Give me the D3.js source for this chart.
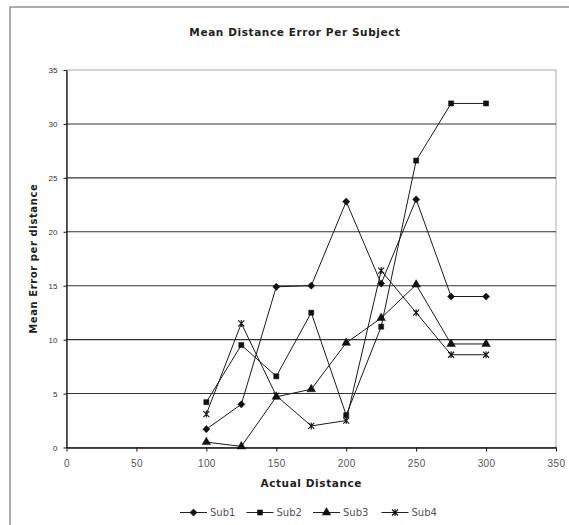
<!DOCTYPE html>
<html>
<head>
<meta charset="utf-8">
<script src="https://cdn.jsdelivr.net/npm/d3@7"></script>
<style>
  body { margin: 0; background: #fff; }
  svg { display: block; font-family: "DejaVu Sans", sans-serif; }
</style>
</head>
<body>
<div id="chart"></div>
<script>
// values
var distances = [100, 125, 150, 175, 200, 225, 250, 275, 300];
var sub1 = [1.7, 4.0, 14.9, 15.0, 22.8, 15.2, 23.0, 14.0, 14.0];
var sub2 = [4.2, 9.5, 6.6, 12.5, 3.0, 11.2, 26.6, 31.9, 31.9];
var sub3 = [0.5, 0.1, 4.7, 5.4, 9.7, 12.0, 15.1, 9.6, 9.6];
var sub4 = [3.1, 11.5, 4.8, 2.0, 2.5, 16.4, 12.5, 8.6, 8.6];
var seriesNames = ["Sub1", "Sub2", "Sub3", "Sub4"];
var xTicks = [0, 50, 100, 150, 200, 250, 300, 350];
var yTicks = [0, 5, 10, 15, 20, 25, 30, 35];

var width = 569, height = 525;
var plotL = 66.5, plotR = 556, plotT = 70, plotB = 447.5;

var svg = d3.select("#chart").append("svg")
    .attr("width", width)
    .attr("height", height);

// chart area border (runs off the picture on right / bottom)
svg.append("rect")
    .attr("x", 10).attr("y", 7)
    .attr("width", 600).attr("height", 600)
    .attr("fill", "none")
    .attr("stroke", "#777")
    .attr("stroke-width", 1.2);

var x = d3.scaleLinear().domain([0, 350]).range([plotL, plotR]);
var y = d3.scaleLinear().domain([0, 35]).range([plotB, plotT]);

// plot area outline
svg.append("rect")
    .attr("x", plotL).attr("y", plotT)
    .attr("width", plotR - plotL).attr("height", plotB - plotT)
    .attr("fill", "none")
    .attr("stroke", "#aaa")
    .attr("stroke-width", 1);

// gridlines
svg.append("g")
    .selectAll("line")
    .data(yTicks.filter(function(d){ return d > 0 && d < 35; }))
    .enter()
    .append("line")
    .attr("x1", plotL).attr("x2", plotR)
    .attr("y1", function(d){ return y(d); })
    .attr("y2", function(d){ return y(d); })
    .attr("stroke", "#333")
    .attr("stroke-width", 1.1);

// axes
var yAxis = svg.append("g")
    .attr("transform", "translate(" + plotL + ",0)")
    .call(d3.axisLeft(y).tickValues(yTicks).tickSize(3).tickSizeOuter(0).tickPadding(6));
yAxis.select(".domain").attr("stroke", "#111").attr("stroke-width", 1.3);
yAxis.selectAll(".tick line").attr("stroke", "#111");
yAxis.selectAll("text").style("font-size", "8px").attr("fill", "#333");

var xAxis = svg.append("g")
    .attr("transform", "translate(0," + plotB + ")")
    .call(d3.axisBottom(x).tickValues(xTicks).tickSize(4).tickSizeOuter(0).tickPadding(8));
xAxis.select(".domain").attr("stroke", "#111").attr("stroke-width", 1.6);
xAxis.selectAll(".tick line").attr("stroke", "#111");
xAxis.selectAll("text").style("font-size", "10px").style("letter-spacing", "0.4px").attr("fill", "#555");

// titles
svg.append("text")
    .text("Mean Distance Error Per Subject")
    .attr("x", 295).attr("y", 36)
    .attr("text-anchor", "middle")
    .style("font-size", "10.5px")
    .style("font-weight", "bold")
    .style("letter-spacing", "0.6px")
    .attr("fill", "#222");

svg.append("text")
    .text("Actual Distance")
    .attr("x", (plotL + plotR) / 2).attr("y", 487)
    .attr("text-anchor", "middle")
    .style("font-size", "10.5px")
    .style("font-weight", "bold")
    .style("letter-spacing", "0.6px")
    .attr("fill", "#222");

svg.append("text")
    .text("Mean Error per distance")
    .attr("transform", "translate(37," + ((plotT + plotB) / 2) + ") rotate(-90)")
    .attr("text-anchor", "middle")
    .style("font-size", "10px")
    .style("font-weight", "bold")
    .style("letter-spacing", "0.6px")
    .attr("fill", "#222");

// markers
var markers = [
    "M0,-3.6L3.6,0L0,3.6L-3.6,0Z",
    d3.symbol().type(d3.symbolSquare).size(26)(),
    d3.symbol().type(d3.symbolTriangle).size(32)(),
    "M-3,-3L3,3M-3,3L3,-3M0,-3.5L0,3.5"
];

var allSeries = [sub1, sub2, sub3, sub4];
var line = d3.line()
    .x(function(d, i){ return x(distances[i]); })
    .y(function(d){ return y(d); });

allSeries.forEach(function(vals, s) {
    var g = svg.append("g");
    g.append("path")
        .attr("d", line(vals))
        .attr("fill", "none")
        .attr("stroke", "#1a1a1a")
        .attr("stroke-width", 1);
    g.selectAll("path.m")
        .data(vals)
        .enter()
        .append("path")
        .attr("class", "m")
        .attr("d", markers[s])
        .attr("transform", function(d, i){ return "translate(" + x(distances[i]) + "," + y(d) + ")"; })
        .attr("fill", s == 3 ? "none" : "#111")
        .attr("stroke", "#111")
        .attr("stroke-width", s == 3 ? 1.1 : 0.5);
});

// legend
var legendX = [180, 246.5, 313, 381.5];
var legend = svg.append("g").attr("class", "legend");
seriesNames.forEach(function(name, s) {
    var lx = legendX[s], ly = 512.5;
    legend.append("line")
        .attr("x1", lx).attr("x2", lx + 27)
        .attr("y1", ly).attr("y2", ly)
        .attr("stroke", "#222")
        .attr("stroke-width", 1);
    legend.append("path")
        .attr("d", markers[s])
        .attr("transform", "translate(" + (lx + 13.5) + "," + ly + ")")
        .attr("fill", s == 3 ? "none" : "#111")
        .attr("stroke", "#111")
        .attr("stroke-width", s == 3 ? 1.1 : 0.5);
    legend.append("text")
        .text(name)
        .attr("x", lx + 30).attr("y", ly + 3.5)
        .style("font-size", "10px")
        .attr("fill", "#555");
});
</script>
</body>
</html>
